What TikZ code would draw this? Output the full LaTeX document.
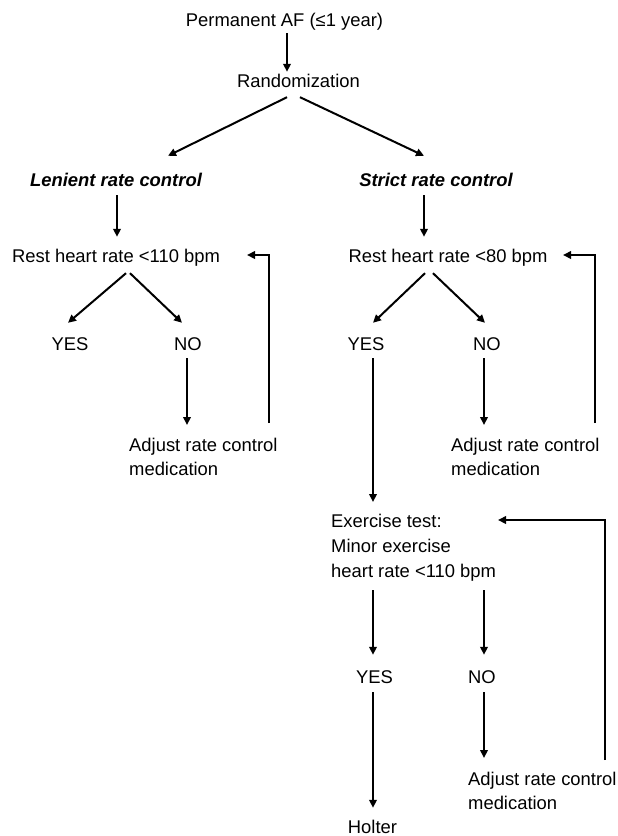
\documentclass[tikz,border=0pt]{standalone}
\usepackage{fontspec}
\setmainfont{Liberation Sans}
\usetikzlibrary{arrows.meta}

\begin{document}
\begin{tikzpicture}[x=1pt, y=-1pt,
    every node/.append style={font=\fontsize{18.4}{24}\selectfont, inner xsep=0pt, inner ysep=2pt},
    txt/.style={anchor=base, text height=13.5pt, text depth=4pt},
    arm/.style={txt, font=\fontsize{18.4}{24}\selectfont\bfseries\itshape},
    box/.style={anchor=north west, align=left},
    arr/.style={line width=2pt, -{Triangle[length=8pt, width=7.5pt]}}]

    \useasboundingbox (0,0) rectangle (618,836);

    % top of the tree
    \node[txt] (perm) at (284.5,26) {Permanent AF (≤1 year)};
    \node[txt] (rand) at (298.5,87) {Randomization};
    \node[arm] (len) at (116,186) {Lenient rate control};
    \node[arm] (strict) at (436,186) {Strict rate control};

    % resting heart rate
    \node[txt] (rest1) at (116,262) {Rest heart rate <110 bpm};
    \node[txt] (rest2) at (448,262) {Rest heart rate <80 bpm};
    \node[txt] (yes1) at (70,350) {YES};
    \node[txt] (no1) at (188,350) {NO};
    \node[txt] (yes2) at (366,350) {YES};
    \node[txt] (no2) at (487,350) {NO};
    \node[box] (adj1) at (129,435.8) {Adjust rate control\\medication};
    \node[box] (adj2) at (451,435.8) {Adjust rate control\\medication};

    % exercise test
    \node[box, font=\fontsize{18.4}{25}\selectfont] (ex) at (331,511.8)
        {Exercise test:\\Minor exercise\\heart rate <110 bpm};
    \node[txt] (yes3) at (374.5,683) {YES};
    \node[txt] (no3) at (482,683) {NO};
    \node[box] (adj3) at (468,769.8) {Adjust rate control\\medication};
    \node[txt] (holter) at (372.5,833) {Holter};

    \draw[arr] ([shift={(2.5,1)}]perm.south) -- ([shift={(-11.5,0.5)}]rand.north);
    \draw[arr] ([shift={(-11.5,4)}]rand.south) -- ([shift={(52,-14.5)}]len.north);
    \draw[arr] ([shift={(1.5,4)}]rand.south) -- ([shift={(-12,-14.5)}]strict.north);
    \draw[arr] ([shift={(1,3)}]len.south) -- ([shift={(1,-9.5)}]rest1.north);
    \draw[arr] ([shift={(-12,3)}]strict.south) -- ([shift={(-24,-9.5)}]rest2.north);

    \draw[arr] ([shift={(10,5)}]rest1.south) -- ([shift={(-2,-11.5)}]yes1.north);
    \draw[arr] ([shift={(14,5)}]rest1.south) -- ([shift={(-6,-11.5)}]no1.north);
    \draw[arr] ([shift={(-23,5)}]rest2.south) -- ([shift={(7,-11.5)}]yes2.north);
    \draw[arr] ([shift={(-15,5)}]rest2.south) -- ([shift={(-2,-11.5)}]no2.north);
    \draw[arr] ([shift={(-1,2)}]no1.south) -- ([shift={(58,-10.8)}]adj1.north west);
    \draw[arr] ([shift={(-3,2)}]no2.south) -- ([shift={(33,-10.8)}]adj2.north west);
    \draw[arr] ([shift={(140,-12.8)}]adj1.north west) |- ([shift={(131,-7)}]rest1.base);
    \draw[arr] ([shift={(144,-12.8)}]adj2.north west) |- ([shift={(115,-7)}]rest2.base);

    \draw[arr] ([shift={(7,2)}]yes2.south) -- ([shift={(42,-9.8)}]ex.north west);
    \draw[arr] ([shift={(42,78.2)}]ex.north west) -- ([shift={(-1.5,-12.5)}]yes3.north);
    \draw[arr] ([shift={(153,78.2)}]ex.north west) -- ([shift={(2,-12.5)}]no3.north);
    \draw[arr] ([shift={(-1.5,3)}]yes3.south) -- ([shift={(0.5,-9.5)}]holter.north);
    \draw[arr] ([shift={(2,3)}]no3.south) -- ([shift={(16,-11.8)}]adj3.north west);
    \draw[arr] ([shift={(137,-9.8)}]adj3.north west) |- ([shift={(167,8.2)}]ex.north west);

\end{tikzpicture}
\end{document}
